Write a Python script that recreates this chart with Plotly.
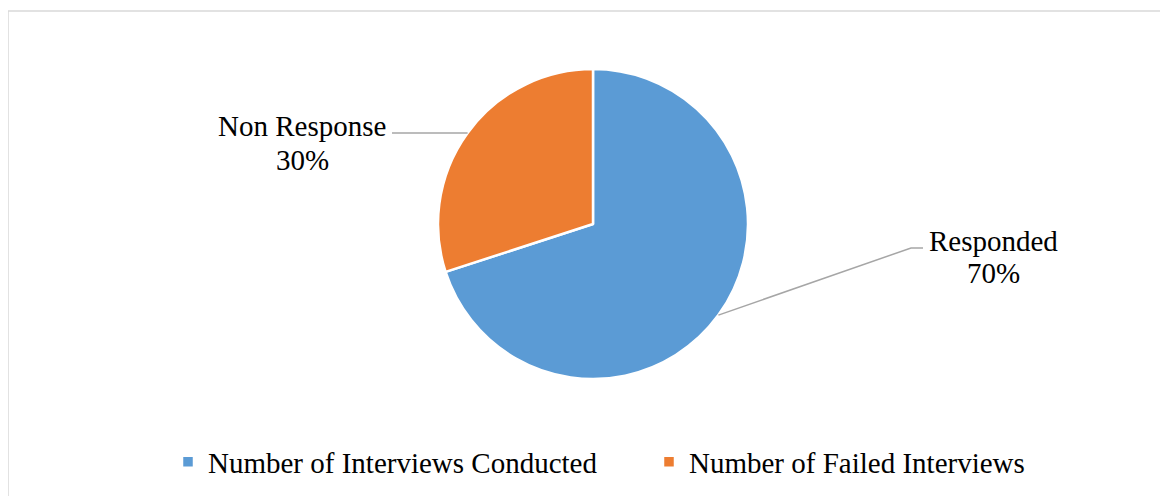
import math
import plotly.graph_objects as go

# ---- data ----
legend_names = ["Number of Interviews Conducted", "Number of Failed Interviews"]
slice_names = ["Responded", "Non Response"]
values = [70, 30]
colors = ["#5B9BD5", "#ED7D31"]

# ---- layout constants (pixels, in window coordinates) ----
W, H = 1168, 496
OFF = 8                              # page body margin
CX, CY, R = 593, 224, 155            # pie centre / radius
FONT = "Liberation Serif, Times New Roman, serif"
FS = 29
label_pos = [
    {"x": 993, "y1": 241, "y2": 273, "end": (923, 248), "elbow": (911, 248)},
    {"x": 302, "y1": 126, "y2": 160, "end": (392, 133), "elbow": None},
]

def px_x(x):
    return (x - OFF) / W

def px_y(y):
    return 1 - (y - OFF) / H

fig = go.Figure(
    go.Pie(
        labels=legend_names,
        values=values,
        sort=False,
        direction="clockwise",
        rotation=0,
        marker=dict(colors=colors, line=dict(color="white", width=2.5)),
        textinfo="none",
        hoverinfo="label+percent",
        domain=dict(x=[px_x(CX - R), px_x(CX + R)],
                    y=[px_y(CY + R), px_y(CY - R)]),
    )
)

total = sum(values)
annotations = []
shapes = []
cum = 0
for i, v in enumerate(values):
    mid = (cum + v / 2) / total * 2 * math.pi
    cum += v
    ex = CX + R * math.sin(mid)
    ey = CY - R * math.cos(mid)
    lp = label_pos[i]
    pts = [(ex, ey)]
    if lp["elbow"]:
        pts.append(lp["elbow"])
    pts.append(lp["end"])
    path = "M " + " L ".join(f"{px_x(a)},{px_y(b)}" for a, b in pts)
    shapes.append(dict(type="path", xref="paper", yref="paper", path=path,
                       line=dict(color="#A6A6A6", width=1.5)))
    pct = f"{round(v / total * 100)}%"
    for txt, yy in ((slice_names[i], lp["y1"]), (pct, lp["y2"])):
        annotations.append(dict(text=txt, x=px_x(lp["x"]), y=px_y(yy),
                                xref="paper", yref="paper", showarrow=False,
                                xanchor="center", yanchor="middle",
                                font=dict(family=FONT, size=FS, color="#000000")))

# chart border
shapes.append(dict(type="rect", xref="paper", yref="paper",
                   x0=px_x(8), x1=px_x(W + 20), y0=px_y(H + 20), y1=px_y(11),
                   line=dict(color="#D9D9D9", width=1.5), fillcolor="rgba(0,0,0,0)"))

fig.update_layout(
    width=W, height=H,
    margin=dict(l=0, r=0, t=0, b=0),
    paper_bgcolor="white",
    plot_bgcolor="white",
    showlegend=True,
    legend=dict(orientation="h", x=px_x(168), y=px_y(462),
                xanchor="left", yanchor="middle",
                font=dict(family=FONT, size=FS, color="#000000"),
                entrywidth=436, entrywidthmode="pixels",
                bgcolor="rgba(0,0,0,0)"),
    annotations=annotations,
    shapes=shapes,
)

fig.write_html("out.html")
